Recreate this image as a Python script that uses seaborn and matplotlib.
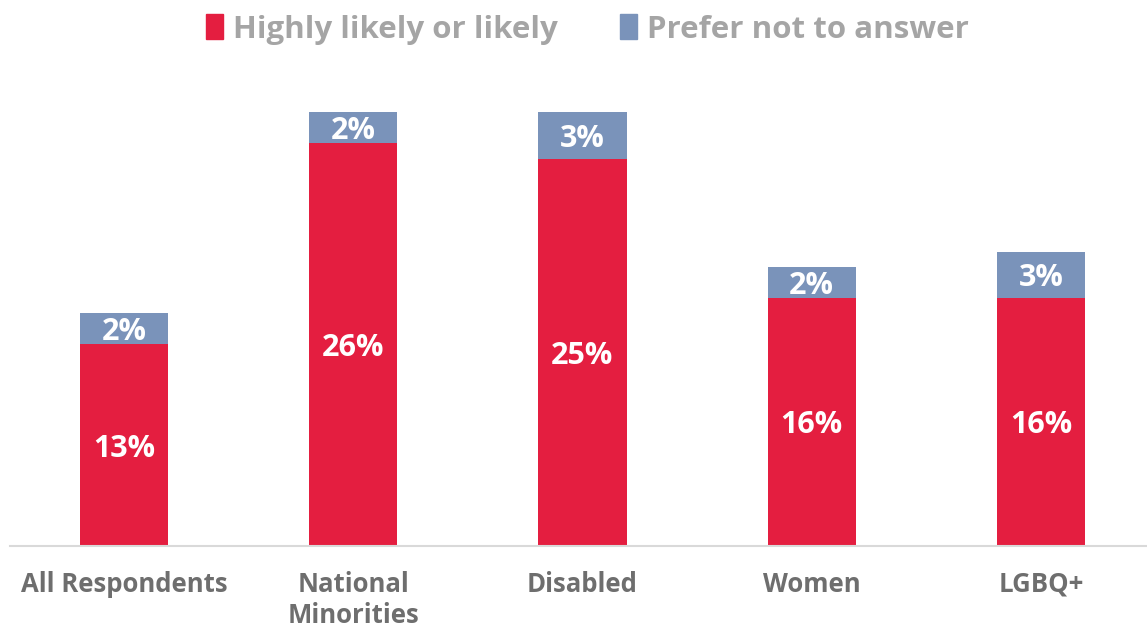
import matplotlib
matplotlib.use("Agg")
import matplotlib.pyplot as plt
import seaborn as sns
import pandas as pd
from matplotlib.patches import Patch

categories = ["All Respondents", "National\nMinorities", "Disabled", "Women", "LGBQ+"]
likely = [13, 26, 25, 16, 16]
no_answer = [2, 2, 3, 2, 3]

red = "#E41E40"
blue = "#7A93BA"

sns.set_theme(style="white")
plt.rcParams["font.family"] = ["Open Sans", "DejaVu Sans"]

df = pd.DataFrame({"group": categories, "likely": likely, "no_answer": no_answer})
df["total"] = df["likely"] + df["no_answer"]

fig = plt.figure(figsize=(11.47, 6.27), dpi=100)
ax = fig.add_axes([0.0087, 0.1292, 0.9913, 0.7416])

# blue = full stack height, red drawn over it
sns.barplot(data=df, x="group", y="total", color=blue, saturation=1, width=0.384,
            linewidth=0, ax=ax)
sns.barplot(data=df, x="group", y="likely", color=red, saturation=1, width=0.384,
            linewidth=0, ax=ax)

for i, row in df.iterrows():
    ax.text(i, row["likely"] / 2, f"{row['likely']}%", ha="center", va="center_baseline",
            color="white", fontsize=22, fontweight="bold")
    ax.text(i, row["likely"] + row["no_answer"] / 2, f"{row['no_answer']}%", ha="center",
            va="center_baseline", color="white", fontsize=22, fontweight="bold")

ax.set_ylim(0, 30)
ax.set_xlim(-0.4967, 4.4619)
ax.set_xlabel("")
ax.set_ylabel("")
ax.set_yticks([])
for s in ["top", "right", "left"]:
    ax.spines[s].set_visible(False)
ax.spines["bottom"].set_color("#D9D9D9")
ax.spines["bottom"].set_linewidth(1.5)
ax.tick_params(axis="x", length=0, pad=18)
for lbl in ax.get_xticklabels():
    lbl.set_fontsize(18.5)
    lbl.set_fontweight("bold")
    lbl.set_color("#6E6E6E")
    lbl.set_linespacing(1.2)
    lbl.set_verticalalignment("top")

handles = [Patch(color=red, label="Highly likely or likely"),
           Patch(color=blue, label="Prefer not to answer")]
leg = fig.legend(handles=handles, loc="center", bbox_to_anchor=(0.512, 0.953), ncol=2,
                 frameon=False, handlelength=0.55, handleheight=0.85, handletextpad=0.3,
                 columnspacing=2.0, prop={"size": 22.5, "weight": "bold"})
for t in leg.get_texts():
    t.set_color("#A5A5A5")

fig.savefig("out.png", dpi=100)
